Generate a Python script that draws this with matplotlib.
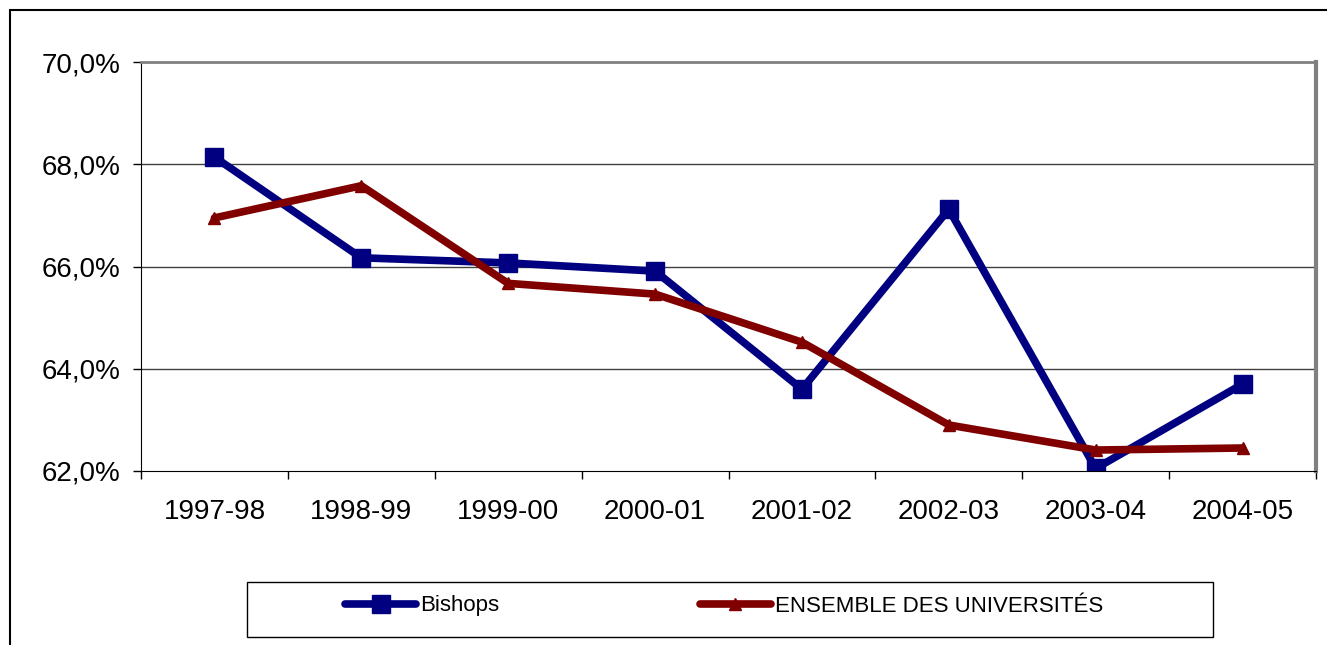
import numpy as np
import matplotlib
matplotlib.use("Agg")
import matplotlib.pyplot as plt
from matplotlib.patches import Rectangle
from matplotlib.ticker import FuncFormatter, FixedLocator

plt.rcParams['font.family'] = ['Liberation Sans', 'DejaVu Sans']

# Data
years = ["1997-98", "1998-99", "1999-00", "2000-01",
         "2001-02", "2002-03", "2003-04", "2004-05"]
bishops = [68.14, 66.17, 66.07, 65.91, 63.60, 67.12, 62.05, 63.70]
ensemble = [66.95, 67.58, 65.67, 65.46, 64.52, 62.90, 62.41, 62.45]
y_ticks = [62, 64, 66, 68, 70]

W, H = 1327, 645
fig = plt.figure(figsize=(W / 100, H / 100), dpi=100)
fig.patch.set_facecolor("white")

# outer chart frame (runs off the right and bottom edges)
fig.patches.append(Rectangle((10 / W, -0.05), 1.1, 1 - 10 / H + 0.05,
                             transform=fig.transFigure, fill=False,
                             edgecolor="black", linewidth=1.5))

ax = fig.add_axes([141 / W, 1 - 471 / H, (1316 - 141) / W, (471 - 62) / H])
x = np.arange(len(years))

ax.plot(x, bishops, color="#000080", linewidth=5.5, marker="s",
        markersize=13, label="Bishops", solid_capstyle="round")
ax.plot(x, ensemble, color="#800000", linewidth=5.5, marker="^",
        markersize=8, label="ENSEMBLE DES UNIVERSITÉS", solid_capstyle="round")

ax.set_xlim(-0.5, len(years) - 0.5)
ax.set_ylim(62, 70)
ax.set_yticks(y_ticks)
ax.yaxis.set_major_formatter(FuncFormatter(lambda v, p: f"{v:.1f}%".replace(".", ",")))
ax.set_xticks(x)
ax.set_xticklabels(years)
ax.xaxis.set_minor_locator(FixedLocator(np.arange(-0.5, len(years), 1.0)))

ax.tick_params(axis="x", which="major", length=0, pad=20, labelsize=20)
ax.tick_params(axis="x", which="minor", length=6, width=1, direction="out")
ax.tick_params(axis="y", length=6, width=1, pad=9, labelsize=20)

for v in [64, 66, 68]:
    ax.axhline(v, color="#404040", linewidth=1, zorder=0)

ax.spines["left"].set_color("black")
ax.spines["bottom"].set_color("black")
ax.spines["top"].set_color("#808080")
ax.spines["top"].set_linewidth(2)
ax.spines["right"].set_color("#808080")
ax.spines["right"].set_linewidth(3)

# legend box
fig.patches.append(Rectangle((247 / W, 1 - 637 / H), (1213 - 247) / W, (637 - 582) / H,
                             transform=fig.transFigure, fill=False,
                             edgecolor="black", linewidth=1))
leg = fig.legend(loc="center left", bbox_to_anchor=(345 / W, 1 - 606 / H),
                 ncol=2, frameon=False, fontsize=16, handlelength=3.2,
                 handletextpad=0.2, columnspacing=9.0, borderpad=0,
                 borderaxespad=0)

fig.savefig("out.png", dpi=100)
